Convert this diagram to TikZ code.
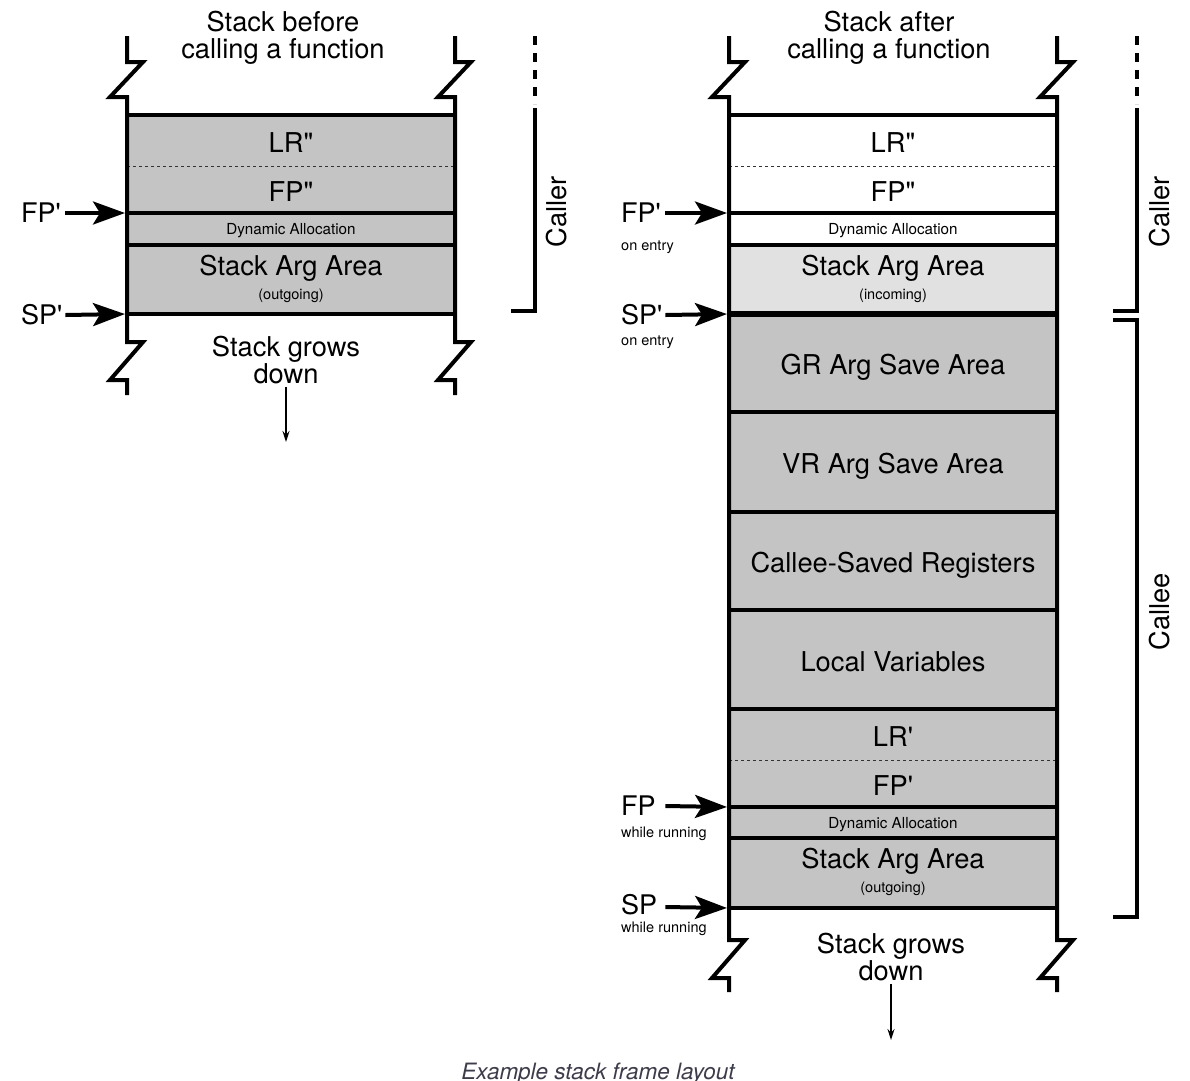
\documentclass[tikz,border=0pt]{standalone}
\usepackage{fontspec}
\setmainfont{TeX Gyre Heros}[Ligatures=TeXOff]
\usetikzlibrary{arrows.meta}

\definecolor{slotgray}{RGB}{196,196,196}
\definecolor{slotlight}{RGB}{225,225,225}
\definecolor{captiongray}{RGB}{60,60,74}

\newcommand{\slotfont}{\fontsize{27.3}{27}\selectfont}
\newcommand{\ptrfont}{\fontsize{27}{28}\selectfont}
\newcommand{\allocfont}{\fontsize{15.2}{16}\selectfont}
\newcommand{\notefont}{\fontsize{14.5}{16}\selectfont}
\newcommand{\capfont}{\fontsize{22.5}{24}\selectfont\itshape}

\begin{document}
\begin{tikzpicture}[x=1pt,y=-1pt,
  slot/.style={anchor=north, minimum width=328pt, minimum height=#1, inner sep=0pt, outer sep=0pt, font=\slotfont, align=center, text height=23.5pt, text depth=0pt},
  alloc/.style={font=\allocfont, text height=11pt, text depth=0pt},
  twoline/.style={text height=40pt, text depth=1pt},
  used/.style={fill=slotgray},
  wall/.style={line width=4pt, line join=miter},
  divider/.style={line width=4pt},
  halfline/.style={line width=1pt, dash pattern=on 3pt off 3pt, draw=black!80},
  bracket/.style={line width=3.5pt, line join=miter},
  ptr/.style={line width=4pt, -{Stealth[length=32pt,width=23pt,inset=7pt]}, shorten >=2pt},
  ptrlabel/.style={anchor=west, inner sep=0pt, text width=44pt, font=\ptrfont},
  ptrnote/.style={anchor=west, inner sep=0pt, font=\notefont},
  growline/.style={line width=1.5pt, -{Stealth[length=11pt,width=7pt]}}]
        \useasboundingbox (0,0) rectangle (1190,1080);

        % stack before the call
        \path (291,115) node[slot=51pt,used] (lrA) {LR"}
              (291,166) node[slot=47pt,used] (fpA) {FP"}
              (291,213) node[slot=32pt,used,alloc] (daA) {Dynamic Allocation}
              (291,245) node[slot=69pt,used,twoline] (argA) {Stack Arg Area\\[-3pt]{\notefont (outgoing)}};

        \draw[divider] (lrA.north west) -- (lrA.north east);
        \draw[halfline] (fpA.north west) -- (fpA.north east);
        \draw[divider] (daA.north west) -- (daA.north east);
        \draw[divider] (argA.north west) -- (argA.north east);
        \draw[divider] (argA.south west) -- (argA.south east);

        \draw[wall] (127,36) -- (127,62) -- ++(16,0) -- ++(-33,35) -- ++(17,0) -- (127,342) -- ++(16,0) -- ++(-33,38) -- ++(17,0) -- (127,395);
        \draw[wall] (455,36) -- (455,62) -- ++(16,0) -- ++(-33,35) -- ++(17,0) -- (455,342) -- ++(16,0) -- ++(-33,38) -- ++(17,0) -- (455,395);

        \node[ptrlabel] (fpL) at (21,213) {FP'};
        \node[ptrlabel] (spL) at (21,315) {SP'};
        \draw[ptr] (fpL.east) -- (daA.north west);
        \draw[ptr] (spL.east) -- (argA.south west);

        \node[align=center,font=\slotfont] (titleA) at (283,37.5) {Stack before\\calling a function};
        \node[align=center,font=\slotfont] (growA) at (286,360) {Stack grows\\down};
        \coordinate (growAend) at (286,442);
        \draw[growline] (growA) -- (growAend);

        \draw[bracket, line width=4pt, dash pattern=on 9pt off 8pt] (535,36) -- (535,104);
        \draw[bracket] (535,108) -- (535,311) -- (511,311);
        \node[rotate=90,font=\slotfont] (callerA) at (557,212) {Caller};

        % stack after the call
        \path (893,115) node[slot=51pt] (lrB) {LR"}
              (893,166) node[slot=47pt] (fpB) {FP"}
              (893,213) node[slot=32pt,alloc] (daB) {Dynamic Allocation}
              (893,245) node[slot=69pt,twoline,fill=slotlight] (inB) {Stack Arg Area\\[-3pt]{\notefont (incoming)}}
              (893,314) node[slot=98pt,used] (grB) {GR Arg Save Area}
              (893,412) node[slot=100pt,used] (vrB) {VR Arg Save Area}
              (893,512) node[slot=98pt,used] (csB) {Callee-Saved Registers}
              (893,610) node[slot=99pt,used] (lvB) {Local Variables}
              (893,709) node[slot=51pt,used] (lrC) {LR'}
              (893,760) node[slot=47pt,used] (fpC) {FP'}
              (893,807) node[slot=31pt,used,alloc] (daC) {Dynamic Allocation}
              (893,838) node[slot=70pt,used,twoline] (outB) {Stack Arg Area\\[-3pt]{\notefont (outgoing)}};

        \draw[divider] (lrB.north west) -- (lrB.north east);
        \draw[halfline] (fpB.north west) -- (fpB.north east);
        \draw[divider] (daB.north west) -- (daB.north east);
        \draw[divider] (inB.north west) -- (inB.north east);
        \draw[divider, line width=6pt] (grB.north west) -- (grB.north east);
        \draw[divider] (vrB.north west) -- (vrB.north east);
        \draw[divider] (csB.north west) -- (csB.north east);
        \draw[divider] (lvB.north west) -- (lvB.north east);
        \draw[divider] (lrC.north west) -- (lrC.north east);
        \draw[halfline] (fpC.north west) -- (fpC.north east);
        \draw[divider] (daC.north west) -- (daC.north east);
        \draw[divider] (outB.north west) -- (outB.north east);
        \draw[divider] (outB.south west) -- (outB.south east);

        \draw[wall] (729,36) -- (729,62) -- ++(16,0) -- ++(-33,35) -- ++(17,0) -- (729,940) -- ++(16,0) -- ++(-33,38) -- ++(17,0) -- (729,992);
        \draw[wall] (1057,36) -- (1057,62) -- ++(16,0) -- ++(-33,35) -- ++(17,0) -- (1057,940) -- ++(16,0) -- ++(-33,38) -- ++(17,0) -- (1057,992);

        \node[ptrlabel] (fpR) at (621,213) {FP'};
        \node[ptrnote] (fpRnote) at (621,247) {on entry};
        \node[ptrlabel] (spR) at (621,315) {SP'};
        \node[ptrnote] (spRnote) at (621,342) {on entry};
        \node[ptrlabel] (fpRun) at (621,806) {FP};
        \node[ptrnote] (fpRunnote) at (621,834) {while running};
        \node[ptrlabel, text depth=6pt] (spRun) at (621,907) {SP};
        \node[ptrnote] (spRunnote) at (621,929) {while running};
        \draw[ptr] (fpR.east) -- (daB.north west);
        \draw[ptr] (spR.east) -- (grB.north west);
        \draw[ptr] (fpRun.east) -- (daC.north west);
        \draw[ptr] (spRun.east) -- (outB.south west);

        \node[align=center,font=\slotfont] (titleB) at (889,37.5) {Stack after\\calling a function};
        \node[align=center,font=\slotfont] (growB) at (891,957) {Stack grows\\down};
        \coordinate (growBend) at (891,1040);
        \draw[growline] (growB) -- (growBend);

        \draw[bracket, line width=4pt, dash pattern=on 9pt off 8pt] (1137,36) -- (1137,104);
        \draw[bracket] (1137,108) -- (1137,311) -- (1113,311);
        \draw[bracket] (1113,320) -- (1137,320) -- (1137,917) -- (1113,917);
        \node[rotate=90,font=\slotfont] (callerB) at (1160,212) {Caller};
        \node[rotate=90,font=\slotfont] (calleeB) at (1160,612) {Callee};

        \node[font=\capfont, text=captiongray, anchor=base] (caption) at (598,1079) {Example stack frame layout};
\end{tikzpicture}
\end{document}
